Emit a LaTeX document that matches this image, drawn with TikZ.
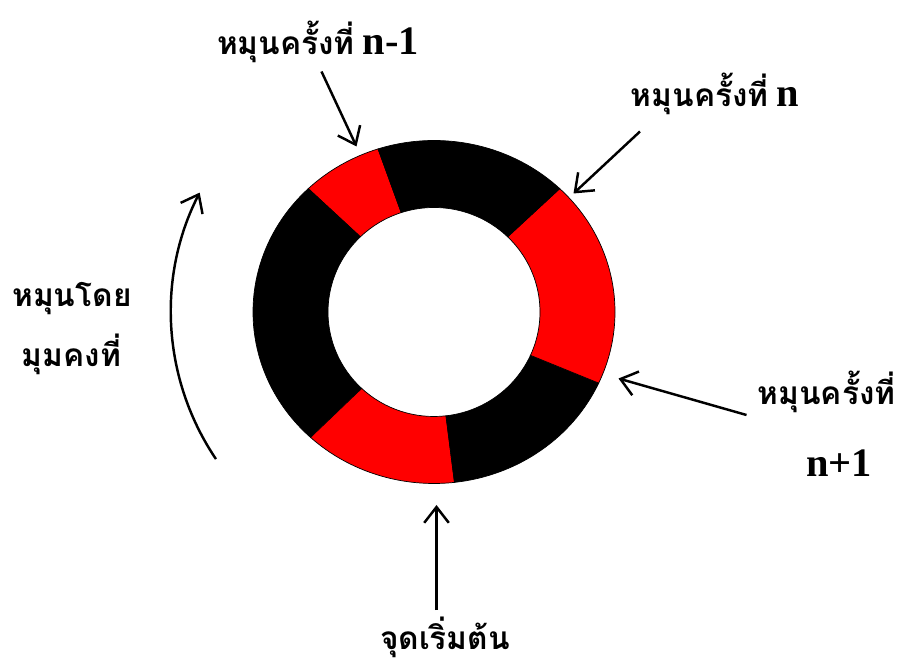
\documentclass[tikz,border=0pt]{standalone}
\usepackage{fontspec}
\setmainfont{Liberation Serif}
\newfontfamily\thaifont[Script=Thai]{Loma}
\usetikzlibrary{arrows.meta}
\newcommand{\bignum}[1]{{\fontsize{23}{26}\selectfont #1}}

\begin{document}
\begin{tikzpicture}[line width=1.4pt,>={Straight Barb[length=9pt,width=14pt]}]
  \tikzstyle{txt}=[font=\fontsize{18}{22}\selectfont\bfseries, inner sep=0pt]
  \tikzstyle{part}=[draw=black, line width=0.4pt]
  \useasboundingbox (-8.68,-7.02) rectangle (9.34,6.24);

  % the ring, cut into six parts
  \filldraw[part, fill=red] (108:3.62 and 3.43) arc[start angle=108, end angle=134, x radius=3.62, y radius=3.43]
    -- (134:2.12 and 2.09) arc[start angle=134, end angle=108, x radius=2.12, y radius=2.09] -- cycle;
  \filldraw[part, fill=black] (134:3.62 and 3.43) arc[start angle=134, end angle=227, x radius=3.62, y radius=3.43]
    -- (227:2.12 and 2.09) arc[start angle=227, end angle=134, x radius=2.12, y radius=2.09] -- cycle;
  \filldraw[part, fill=red] (227:3.62 and 3.43) arc[start angle=227, end angle=276.5, x radius=3.62, y radius=3.43]
    -- (276.5:2.12 and 2.09) arc[start angle=276.5, end angle=227, x radius=2.12, y radius=2.09] -- cycle;
  \filldraw[part, fill=black] (276.5:3.62 and 3.43) arc[start angle=276.5, end angle=335.5, x radius=3.62, y radius=3.43]
    -- (335.5:2.12 and 2.09) arc[start angle=335.5, end angle=276.5, x radius=2.12, y radius=2.09] -- cycle;
  \filldraw[part, fill=red] (335.5:3.62 and 3.43) arc[start angle=335.5, end angle=406, x radius=3.62, y radius=3.43]
    -- (406:2.12 and 2.09) arc[start angle=406, end angle=335.5, x radius=2.12, y radius=2.09] -- cycle;
  \filldraw[part, fill=black] (46:3.62 and 3.43) arc[start angle=46, end angle=108, x radius=3.62, y radius=3.43]
    -- (108:2.12 and 2.09) arc[start angle=108, end angle=46, x radius=2.12, y radius=2.09] -- cycle;

  % labels
  \node[txt, anchor=base] (L_prev) at (-2.32,5.14) {{\thaifont หมุนครั้งที่} \bignum{n-1}};
  \node[txt, anchor=base] (L_cur) at (5.62,4.11) {{\thaifont หมุนครั้งที่} \bignum{n}};
  \node[txt, anchor=base] (L_next) at (7.85,-1.86) {\thaifont หมุนครั้งที่};
  \node[txt, anchor=base] (L_nextnum) at (8.10,-3.29) {\bignum{n+1}};
  \node[txt, anchor=base] (L_start) at (0.22,-6.74) {\thaifont จุดเริ่มต้น};
  \node[txt, anchor=base] (L_turn) at (-7.24,0.11) {\thaifont หมุนโดย};
  \node[txt, anchor=base] (L_fixed) at (-7.25,-1.09) {\thaifont มุมคงที่};

  % arrow ends
  \coordinate (S_prev) at (-2.25,4.81);
  \coordinate (T_prev) at (-1.55,3.31);
  \coordinate (S_cur) at (4.12,3.61);
  \coordinate (T_cur) at (2.79,2.37);
  \coordinate (S_next) at (6.25,-2.06);
  \coordinate (T_next) at (3.69,-1.33);
  \coordinate (S_start) at (0.05,-5.96);
  \coordinate (T_start) at (0.05,-3.86);
  \coordinate (A_low) at (214:5.26);

  \draw[->] (S_prev) -- (T_prev);
  \draw[->] (S_cur) -- (T_cur);
  \draw[->] (S_next) -- (T_next);
  \draw[->] (S_start) -- (T_start);
  \draw[->] (A_low) arc[start angle=214, end angle=153, radius=5.26];
\end{tikzpicture}
\end{document}
